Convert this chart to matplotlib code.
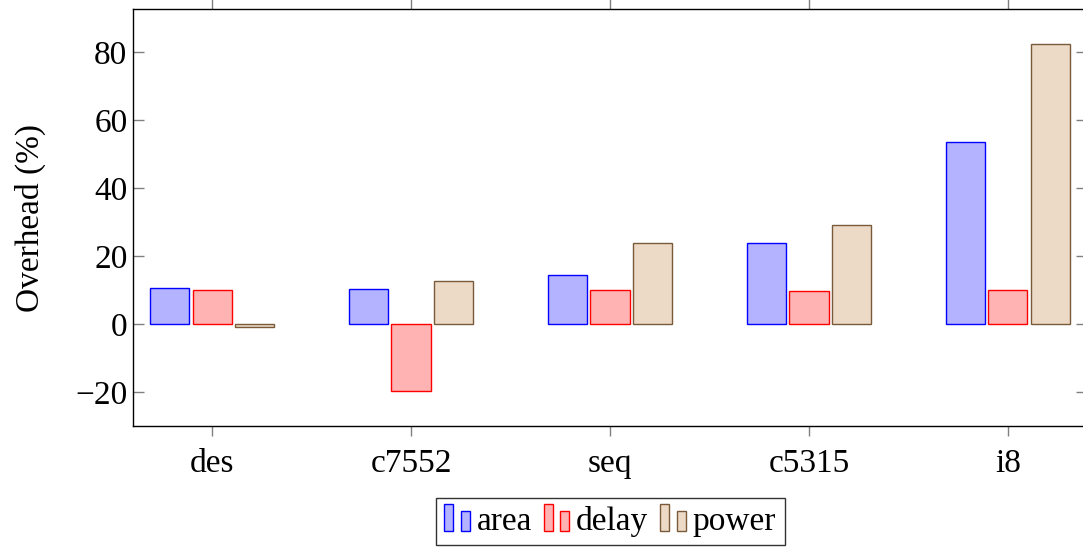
import matplotlib.pyplot as plt
import matplotlib.patches as mpatches
from matplotlib.legend_handler import HandlerBase
import numpy as np

plt.rcParams['font.family'] = ['Liberation Serif', 'DejaVu Serif']

# data
benchmarks = ['des', 'c7552', 'seq', 'c5315', 'i8']
area = [10.5, 10.2, 14.4, 23.8, 53.5]
delay = [9.9, -19.6, 10.0, 9.7, 10.0]
power = [-0.8, 12.6, 23.8, 29.1, 82.4]

series = [
    ('area', area, (0.7, 0.7, 1.0), 'blue'),
    ('delay', delay, (1.0, 0.7, 0.7), 'red'),
    ('power', power, (0.925, 0.85, 0.775), '#7a5a3a'),
]


class TwoBarHandler(HandlerBase):
    # pgfplots style ybar legend image: a tall bar and a short bar
    def create_artists(self, legend, orig, xd, yd, width, height, fontsize, trans):
        fc = orig.get_facecolor()
        ec = orig.get_edgecolor()
        w = 6.5
        r1 = mpatches.Rectangle((-xd, -1), w, 19.4, facecolor=fc, edgecolor=ec, lw=1, transform=trans)
        r2 = mpatches.Rectangle((-xd + 12, -1), w, 14.4, facecolor=fc, edgecolor=ec, lw=1, transform=trans)
        return [r1, r2]


fig = plt.figure(figsize=(10.83, 5.47), dpi=100)
ax = fig.add_axes([133 / 1083, 1 - 426 / 547, 954 / 1083, 417 / 547])

x = np.arange(len(benchmarks))
bw = 0.196
off = 0.216
handles = []
for i, (name, vals, fc, ec) in enumerate(series):
    ax.bar(x + (i - 1) * off, vals, width=bw, color=fc, edgecolor=ec, linewidth=1)
    handles.append(mpatches.Patch(facecolor=fc, edgecolor=ec, label=name))

ax.set_xlim(-0.397, len(benchmarks) - 1 + 0.397)
ax.set_ylim(-30, 92.6)
ax.set_xticks(x)
ax.set_xticklabels(benchmarks)
ax.set_yticks([-20, 0, 20, 40, 60, 80])
ax.set_yticklabels(['\u221220', '0', '20', '40', '60', '80'])
ax.tick_params(axis='y', direction='in', length=8, width=1, color='0.5',
               left=True, right=True, labelsize=24, pad=4)
ax.tick_params(axis='x', direction='out', length=7, width=1, color='0.5',
               top=True, bottom=True, labelsize=24, pad=9)
for s in ax.spines.values():
    s.set_linewidth(1)
ax.set_ylabel('Overhead (%)', fontsize=24, labelpad=21)

leg = fig.legend(handles=handles, handler_map={mpatches.Patch: TwoBarHandler()},
                 loc='lower center', bbox_to_anchor=(610 / 1083, 0.0), ncol=3,
                 fontsize=24, frameon=True, fancybox=False, edgecolor='black',
                 handlelength=0.78, handletextpad=0.2, columnspacing=0.35,
                 borderpad=0.25, borderaxespad=0.05)
leg.get_frame().set_linewidth(1)

fig.savefig('out.png', dpi=100)
